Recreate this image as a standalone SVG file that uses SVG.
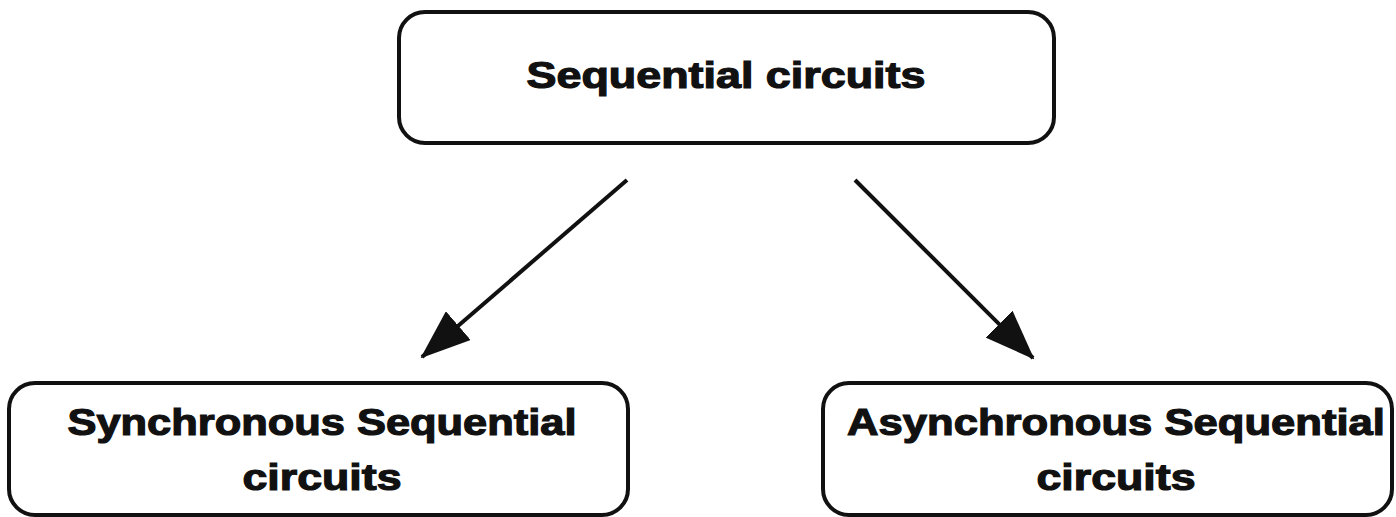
<svg xmlns="http://www.w3.org/2000/svg" width="1396" height="517" viewBox="0 0 1396 517">
  <style>
    .box { fill: #ffffff; stroke: #111111; stroke-width: 4; }
    .label { font-family: "Liberation Sans", Arial, sans-serif; font-weight: bold; font-size: 37px; fill: #111111; stroke: #111111; stroke-width: 1.2; text-anchor: middle; }
    .link { stroke: #111111; stroke-width: 4; fill: none; marker-end: url(#head); }
  </style>
  <defs>
    <marker id="head" viewBox="0 0 50 38" refX="48" refY="19" markerWidth="50" markerHeight="38" markerUnits="userSpaceOnUse" orient="auto">
      <path d="M0,0 L50,19 L0,38 Z" fill="#111111"/>
    </marker>
  </defs>
  <rect width="1396" height="517" fill="#ffffff"/>

  <g id="node-sequential">
    <rect class="box" x="399" y="12" width="655" height="131" rx="26" ry="26"/>
    <text class="label" x="726" y="88" textLength="399" lengthAdjust="spacingAndGlyphs">Sequential circuits</text>
  </g>

  <g id="node-synchronous">
    <rect class="box" x="9" y="383" width="619" height="132" rx="26" ry="26"/>
    <text class="label" x="322" y="435" textLength="509" lengthAdjust="spacingAndGlyphs">Synchronous Sequential</text>
    <text class="label" x="322" y="490" textLength="159" lengthAdjust="spacingAndGlyphs">circuits</text>
  </g>

  <g id="node-asynchronous">
    <rect class="box" x="823" y="383" width="569" height="132" rx="26" ry="26"/>
    <text class="label" x="1116" y="435" textLength="538" lengthAdjust="spacingAndGlyphs">Asynchronous Sequential</text>
    <text class="label" x="1116" y="490" textLength="159" lengthAdjust="spacingAndGlyphs">circuits</text>
  </g>

  <g id="connectors">
    <line class="link" x1="627" y1="180" x2="422" y2="357"/>
    <line class="link" x1="855" y1="180" x2="1033" y2="358"/>
  </g>
</svg>
